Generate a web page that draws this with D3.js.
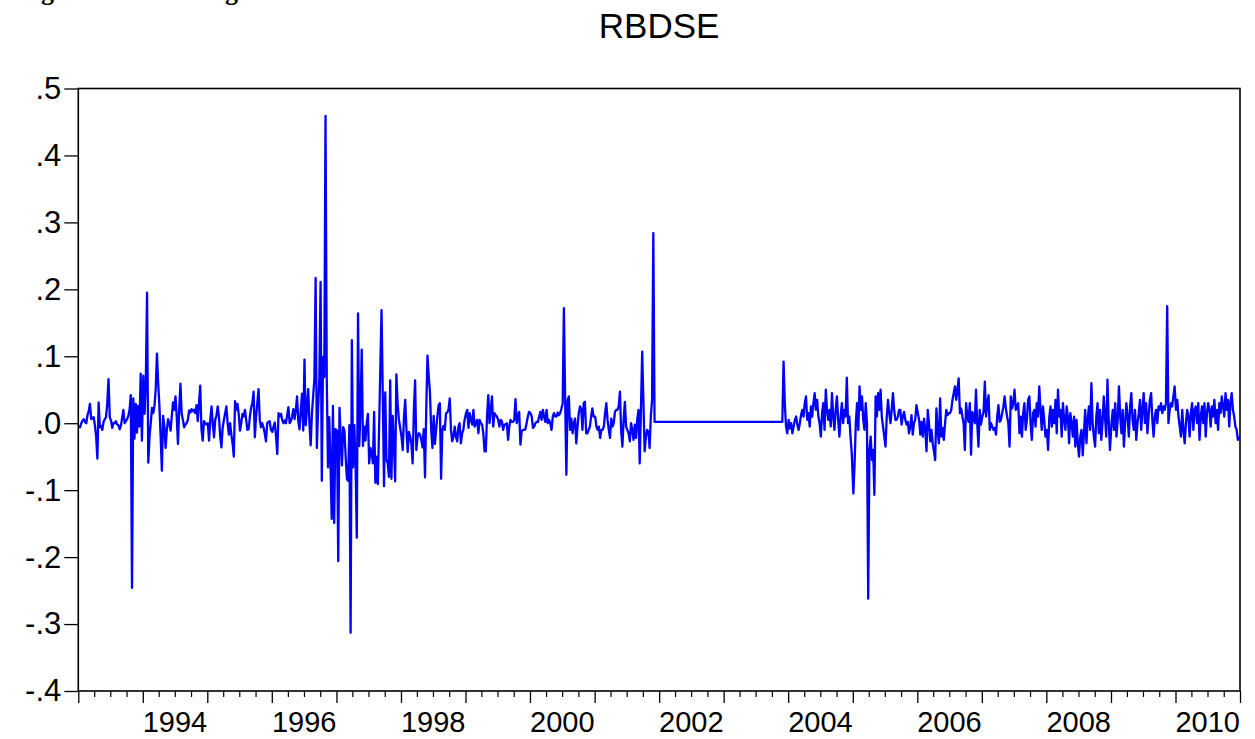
<!DOCTYPE html>
<html><head><meta charset="utf-8">
<script src="https://cdn.jsdelivr.net/npm/d3@7"></script>
<style>body{margin:0;background:#fff} svg{display:block}</style>
</head><body>
<svg id="chart" width="1255" height="739"></svg>
<script>
const chartTitle = "RBDSE";
const caption = "Figure 4.1: The Log Return Series of DSE";

// weekly log returns, 52 readings per year
const r1993 = [-0.005,-0.006,0.0,0.004,0.006,0.002,0.0,0.012,0.018,0.029,0.006,0.008,0.009,-0.003,-0.02,-0.053,0.031,-0.006,-0.004,-0.01,0.002,0.006,0.009,0.03,0.066,0.009,0.004,-0.007,0.0,0.0,0.003,-0.002,-0.003,-0.009,-0.004,0.008,0.02,0.0,0.003,0.006,0.011,0.02,0.042,-0.246,0.037,-0.023,0.029,-0.014,0.026,-0.005,0.074,-0.026];
const r1994 = [0.071,0.014,0.06,0.195,-0.059,-0.02,0.0,0.023,0.015,0.026,0.05,0.104,0.06,0.026,-0.02,-0.071,0.011,-0.005,-0.037,-0.01,0.006,0.0,-0.011,0.01,0.031,0.02,0.04,0.01,-0.031,0.02,0.059,0.014,0.005,-0.006,-0.002,0.0,0.005,0.019,0.016,0.021,0.018,0.02,0.015,0.027,0.003,0.03,0.056,-0.009,-0.026,0.003,0.0,-0.002];
const r1995 = [0.0,-0.026,0.005,0.025,0.0,-0.021,0.005,0.012,0.025,0.009,-0.02,-0.036,-0.006,0.005,0.015,0.025,0.0,-0.017,0.0,-0.017,-0.03,-0.05,0.033,0.02,0.029,0.013,-0.011,0.0,0.014,0.01,0.02,0.005,-0.01,-0.009,0.01,0.023,0.03,0.047,-0.021,0.01,0.03,0.051,0.005,-0.006,0.0,-0.006,-0.015,-0.027,0.0,0.002,0.003,-0.01];
const r1996 = [-0.013,-0.005,0.001,-0.02,-0.046,0.015,0.01,0.014,0.005,0.0,0.004,0.0,0.012,0.024,0.0,0.003,0.01,0.021,0.006,0.02,0.04,0.003,-0.009,0.02,0.044,-0.011,0.095,-0.003,0.02,0.051,0.0,-0.033,0.014,0.04,0.066,0.217,-0.037,0.02,0.066,0.211,-0.086,0.099,0.069,0.459,0.066,-0.066,0.009,-0.06,-0.143,0.026,-0.149,-0.009];
const r1997 = [-0.011,-0.206,0.023,-0.02,-0.063,-0.006,-0.011,-0.05,-0.083,-0.086,-0.003,-0.313,0.124,-0.066,-0.003,-0.06,-0.171,0.164,-0.034,0.02,0.11,-0.034,-0.005,-0.026,0.0,0.014,-0.06,-0.037,-0.045,-0.06,0.017,-0.089,-0.05,-0.091,-0.009,0.08,0.169,0.043,-0.094,0.046,-0.054,-0.06,-0.08,0.064,-0.083,0.011,-0.03,-0.087,0.073,0.03,0.006,-0.006];
const r1998 = [-0.02,-0.04,0.01,0.035,-0.01,-0.043,-0.013,-0.02,-0.031,-0.06,0.02,0.064,-0.04,-0.02,-0.015,-0.017,-0.025,-0.036,-0.009,-0.081,0.02,0.101,0.07,0.046,-0.01,-0.037,0.011,-0.031,-0.01,0.01,0.027,0.03,-0.083,-0.01,-0.004,-0.01,0.015,0.016,0.02,0.037,-0.01,-0.027,-0.02,-0.005,-0.02,-0.027,-0.005,0.0,-0.03,-0.015,-0.01,0.005];
const r1999 = [0.015,0.02,-0.007,0.015,0.005,-0.002,0.02,-0.005,0.0,0.005,-0.015,0.005,0.0,-0.002,-0.015,-0.042,-0.042,0.01,0.042,0.0,0.02,0.04,-0.005,0.015,0.012,0.01,0.005,-0.005,0.005,0.003,-0.01,-0.002,-0.002,0.0,-0.025,-0.005,0.005,0.002,0.002,0.005,0.036,0.0,0.01,0.017,-0.032,-0.012,-0.01,-0.01,-0.009,0.0,0.01,0.017];
const r2000 = [0.015,0.01,-0.007,-0.005,0.0,0.002,0.002,0.01,0.017,0.005,0.02,0.01,0.002,0.02,0.0,0.005,0.0,-0.01,0.01,0.015,0.01,0.01,0.016,0.012,0.015,0.022,0.03,0.172,0.035,-0.077,0.035,0.04,-0.01,0.007,-0.015,0.0,0.007,-0.03,-0.005,0.015,0.025,0.022,-0.01,0.03,0.032,-0.015,-0.015,-0.01,-0.005,0.01,0.022,0.01];
const r2001 = [0.01,-0.005,-0.01,-0.005,-0.022,-0.01,-0.01,-0.005,0.015,0.03,0.005,-0.01,-0.022,0.007,-0.005,0.0,0.017,0.02,0.02,0.025,0.047,-0.012,-0.035,0.005,0.032,-0.005,-0.01,-0.015,-0.027,0.0,-0.01,-0.025,-0.002,-0.022,0.005,0.02,-0.06,0.02,0.107,0.032,-0.042,-0.02,-0.01,-0.012,-0.037,0.01,0.035,0.284,0.002,0.002,0.002,0.002];
const r2002 = [0.002,0.002,0.002,0.002,0.002,0.002,0.002,0.002,0.002,0.002,0.002,0.002,0.002,0.002,0.002,0.002,0.002,0.002,0.002,0.002,0.002,0.002,0.002,0.002,0.002,0.002,0.002,0.002,0.002,0.002,0.002,0.002,0.002,0.002,0.002,0.002,0.002,0.002,0.002,0.002,0.002,0.002,0.002,0.002,0.002,0.002,0.002,0.002,0.002,0.002,0.002,0.002];
const r2003 = [0.002,0.002,0.002,0.002,0.002,0.002,0.002,0.002,0.002,0.002,0.002,0.002,0.002,0.002,0.002,0.002,0.002,0.002,0.002,0.002,0.002,0.002,0.002,0.002,0.002,0.002,0.002,0.002,0.002,0.002,0.002,0.002,0.002,0.002,0.002,0.002,0.002,0.002,0.002,0.002,0.002,0.002,0.002,0.002,0.002,0.002,0.002,0.002,0.092,0.03,-0.005,-0.015];
const r2004 = [0.005,-0.008,0.0,-0.015,-0.005,0.005,0.01,-0.002,-0.01,0.0,0.012,0.02,0.01,0.03,0.04,0.005,0.015,-0.005,0.025,0.01,0.03,0.045,0.02,0.035,0.01,0.0,-0.02,0.015,0.03,-0.01,0.05,0.02,0.005,0.02,-0.005,0.045,0.01,-0.01,0.02,0.04,0.005,-0.02,0.01,0.03,0.0,0.02,0.01,0.068,0.0,0.01,-0.02,-0.045];
const r2005 = [-0.105,-0.06,0.0,0.03,-0.01,0.055,0.02,0.04,0.005,-0.01,0.03,0.0,-0.262,-0.04,-0.02,-0.055,-0.04,-0.107,0.04,0.01,0.045,0.02,0.05,0.01,-0.005,-0.02,-0.035,0.01,0.035,0.015,0.0,0.02,0.045,0.02,0.005,0.005,0.01,0.02,0.02,-0.002,0.01,0.017,0.005,-0.002,0.002,-0.015,-0.005,0.012,-0.017,0.0,0.005,0.027];
const r2006 = [0.015,0.005,-0.017,0.002,-0.02,0.007,-0.01,-0.042,0.02,0.0,-0.027,-0.01,-0.03,-0.042,-0.055,0.022,-0.01,-0.03,0.037,-0.02,-0.007,-0.025,0.0,0.02,0.012,0.015,0.015,0.02,0.035,0.045,0.055,0.035,0.05,0.067,0.015,0.022,0.01,0.0,-0.04,0.03,0.01,0.002,0.03,-0.047,0.017,0.01,0.0,0.05,0.0,-0.035,0.02,-0.002];
const r2007 = [0.01,0.017,0.062,0.01,0.03,0.042,-0.01,0.0,-0.005,-0.01,-0.007,-0.017,0.01,0.027,0.002,0.005,0.015,0.025,0.04,0.022,0.01,0.0,-0.035,0.04,0.022,0.03,0.05,0.02,0.025,0.03,-0.015,0.01,-0.02,0.015,0.03,-0.01,0.005,0.035,0.04,0.0,-0.025,0.015,0.02,-0.005,0.03,0.01,0.055,0.02,-0.01,0.025,0.005,-0.02];
const r2008 = [-0.01,-0.04,0.01,0.025,-0.005,0.02,0.0,0.035,-0.015,0.05,0.01,0.02,-0.02,0.03,0.005,-0.01,0.025,0.01,-0.03,0.015,0.0,-0.02,0.01,-0.035,0.005,-0.03,-0.05,-0.02,-0.01,-0.048,-0.015,0.02,-0.03,0.005,0.025,-0.01,0.06,0.0,-0.02,-0.035,0.01,0.03,-0.015,0.02,-0.025,0.0,0.04,0.01,-0.02,0.065,0.005,-0.04];
const r2009 = [0.0,0.02,-0.01,0.03,-0.02,0.005,0.055,0.01,-0.015,0.02,-0.035,0.0,0.03,0.01,-0.02,0.025,0.045,0.005,-0.01,0.02,-0.025,0.0,0.015,0.035,-0.01,0.02,0.045,0.0,0.03,-0.015,0.01,0.035,0.045,0.005,-0.02,0.01,0.02,0.0,0.025,0.02,0.03,0.015,0.025,0.02,0.03,0.175,0.0,0.02,0.03,0.025,0.04,0.055];
const r2010 = [0.02,0.035,0.01,-0.005,-0.02,0.02,-0.01,-0.03,0.0,0.02,0.01,-0.02,0.015,0.03,-0.01,0.02,0.025,0.0,0.03,-0.025,0.01,0.025,0.0,0.03,-0.02,0.015,0.03,0.02,-0.005,0.025,0.01,0.035,0.0,0.02,-0.01,0.03,0.015,0.04,0.025,0.01,0.045,0.02,0.035,-0.005,0.03,0.045,0.02,0.01,-0.005,-0.01,-0.025,-0.02];

const years = [1993,1994,1995,1996,1997,1998,1999,2000,2001,2002,2003,2004,2005,2006,2007,2008,2009,2010];
const seriesByYear = [r1993,r1994,r1995,r1996,r1997,r1998,r1999,r2000,r2001,r2002,r2003,r2004,r2005,r2006,r2007,r2008,r2009,r2010];

const yTickValues = [-0.4,-0.3,-0.2,-0.1,0.0,0.1,0.2,0.3,0.4,0.5];
const yTickLabels = ["-.4","-.3","-.2","-.1",".0",".1",".2",".3",".4",".5"];
const xLabelYears = [1994,1996,1998,2000,2002,2004,2006,2008,2010];
const xLabels = ["1994","1996","1998","2000","2002","2004","2006","2008","2010"];

const svg = d3.select("#chart");
const L = 78.3, R = 1240, T = 88.5, B = 691;
const font = "'Liberation Sans', Arial, Helvetica, sans-serif";

const data = [];
years.forEach((yr, i) => seriesByYear[i].forEach((v, j) => {
  data.push({date: new Date(yr, 0, 1 + 7 * j + 3), value: v});
}));

const x = d3.scaleTime().domain([new Date(1993,0,1), new Date(2011,0,1)]).range([L, R]);
const y = d3.scaleLinear().domain([-0.4, 0.5]).range([B, T]);

// caption (cut off at top in the reference, only descenders show)
svg.append("text").attr("x", 18).attr("y", 0.3)
  .attr("font-family", "'Liberation Serif', 'Times New Roman', serif")
  .attr("font-weight", "bold").attr("font-size", 26).attr("fill", "#000")
  .text(caption);

// title
svg.append("text").attr("x", (L + R) / 2).attr("y", 38)
  .attr("text-anchor", "middle").attr("font-family", font)
  .attr("font-size", 35).attr("fill", "#000").text(chartTitle);

// line
const line = d3.line().x(d => x(d.date)).y(d => y(d.value));
svg.append("path").datum(data).attr("d", line)
  .attr("fill", "none").attr("stroke", "#0000ff").attr("stroke-width", 2.3)
  .attr("stroke-linejoin", "round");

// y axis
const yAxis = svg.append("g").attr("transform", `translate(${L},0)`)
  .call(d3.axisLeft(y).tickValues(yTickValues).tickFormat((d, i) => yTickLabels[i]).tickSize(14).tickPadding(3));
yAxis.select(".domain").remove();
yAxis.selectAll("line").attr("stroke", "#000").attr("stroke-width", 1.3);
yAxis.selectAll("text").attr("font-family", font).attr("font-size", 31).attr("fill", "#000");

// x axis: yearly major ticks, quarterly minor ticks
const majors = d3.timeYear.range(new Date(1993,0,1), new Date(2011,0,2));
const minors = d3.timeMonth.every(3).range(new Date(1993,0,1), new Date(2011,0,1)).filter(d => d.getMonth() !== 0);
const xMajor = svg.append("g").attr("transform", `translate(0,${B})`)
  .call(d3.axisBottom(x).tickValues(majors).tickSize(12).tickFormat(""));
xMajor.select(".domain").remove();
xMajor.selectAll("line").attr("stroke", "#000").attr("stroke-width", 1.3);
const xMinor = svg.append("g").attr("transform", `translate(0,${B})`)
  .call(d3.axisBottom(x).tickValues(minors).tickSize(6).tickFormat(""));
xMinor.select(".domain").remove();
xMinor.selectAll("line").attr("stroke", "#000").attr("stroke-width", 1.2);

svg.append("g").selectAll("text").data(xLabelYears).join("text")
  .attr("x", d => x(new Date(d, 6, 2))).attr("y", 732)
  .attr("text-anchor", "middle").attr("font-family", font)
  .attr("font-size", 29).attr("fill", "#000")
  .text((d, i) => xLabels[i]);

// frame
svg.append("rect").attr("x", L).attr("y", T).attr("width", R - L).attr("height", B - T)
  .attr("fill", "none").attr("stroke", "#000").attr("stroke-width", 1.6);
</script>
</body></html>
